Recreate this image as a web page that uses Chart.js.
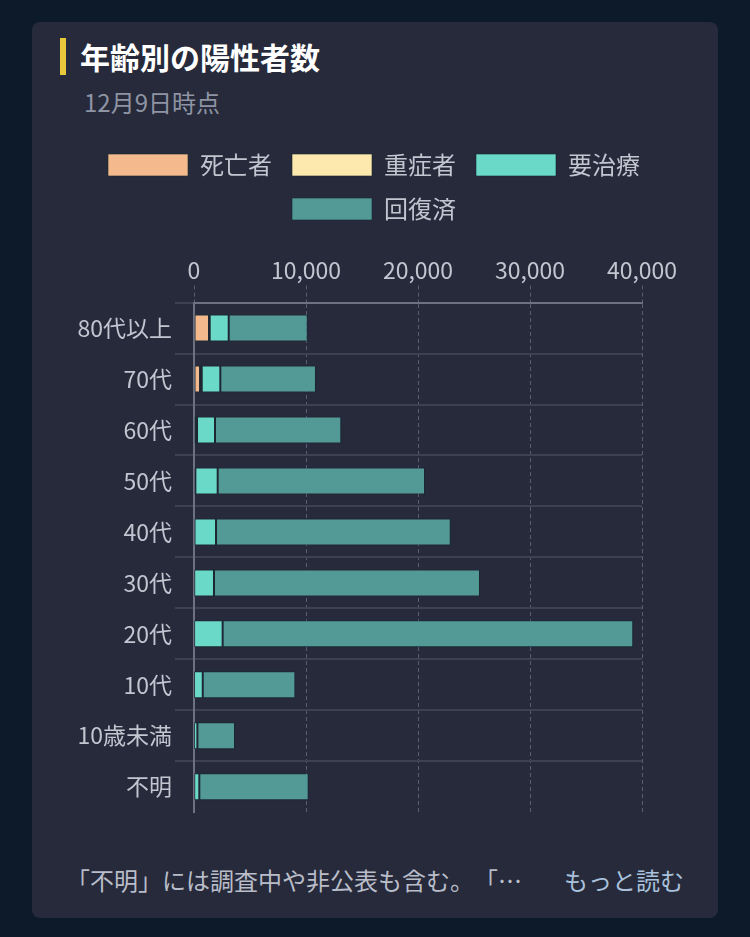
<!DOCTYPE html>
<html lang="ja">
<head>
<meta charset="utf-8">
<script src="https://cdn.jsdelivr.net/npm/chart.js@4/dist/chart.umd.min.js"></script>
<style>
  html, body { margin: 0; padding: 0; }
  body {
    width: 750px; height: 937px; background: #0c1a29; position: relative;
    font-family: "Noto Sans CJK JP", "Noto Sans", sans-serif; overflow: hidden;
  }
  .card {
    position: absolute; left: 32px; top: 22px; width: 686px; height: 896px;
    background: #262a3a; border-radius: 8px; line-height: 1.4;
  }
  .bar { position: absolute; left: 28px; top: 16px; width: 6px; height: 37px; background: #e9c93c; }
  .title { position: absolute; left: 48px; top: 13px; font-size: 30px; font-weight: bold; color: #ffffff; }
  .sub { position: absolute; left: 52px; top: 63px; font-size: 24px; color: #8f94a4; }
  .chart-box { position: absolute; left: 2px; top: 111px; width: 680px; height: 696px; }
  .note {
    position: absolute; left: 34px; top: 841px; font-size: 24px; color: #b9bdc9;
    white-space: nowrap; text-spacing-trim: space-all;
  }
  .more { position: absolute; right: 34px; top: 841px; font-size: 24px; color: #a9c1dc; }
</style>
</head>
<body>
<div class="card">
  <div class="bar"></div>
  <div class="title">年齢別の陽性者数</div>
  <div class="sub">12月9日時点</div>
  <div class="chart-box"><canvas id="grafico-idade"></canvas></div>
  <div class="note">「不明」には調査中や非公表も含む。「…</div>
  <div class="more">もっと読む</div>
</div>
<script>
// 年代
const faixas = ["80代以上", "70代", "60代", "50代", "40代", "30代", "20代", "10代", "10歳未満", "不明"];
// 系列ごとの値（人）
const mortos = [1340, 540, 150, 40, 15, 5, 3, 0, 0, 5];
const graves = [60, 150, 120, 80, 30, 10, 5, 2, 1, 10];
const emTratamento = [1700, 1660, 1605, 1995, 1920, 1770, 2550, 780, 300, 460];
const recuperados = [7050, 8540, 11275, 18510, 20960, 23750, 36660, 8270, 3360, 9765];
// 目盛り
const ticksX = [0, 10000, 20000, 30000, 40000];

const corTexto = "#c3c6d1";
const fonte = "'Noto Sans CJK JP', 'Noto Sans', sans-serif";

function gerarGraficoIdade() {
  const ctx = document.getElementById("grafico-idade").getContext("2d");
  new Chart(ctx, {
    type: "bar",
    data: {
      labels: faixas,
      datasets: [
        { label: "死亡者", data: mortos, backgroundColor: "#f4b98d" },
        { label: "重症者", data: graves, backgroundColor: "#fde9ae" },
        { label: "要治療", data: emTratamento, backgroundColor: "#6bd9c8" },
        { label: "回復済", data: recuperados, backgroundColor: "#539a97" },
      ].map((d) => Object.assign(d, {
        borderColor: "rgba(20, 40, 45, 0.6)",
        borderWidth: 1,
        borderSkipped: false,
        categoryPercentage: 1,
        barPercentage: 0.53,
      })),
    },
    options: {
      indexAxis: "y",
      responsive: true,
      maintainAspectRatio: false,
      animation: false,
      layout: { padding: 0 },
      plugins: {
        legend: {
          position: "top",
          labels: {
            boxWidth: 80,
            boxHeight: 22,
            padding: 20,
            color: corTexto,
            font: { family: fonte, size: 24 },
          },
        },
        tooltip: { enabled: false },
      },
      scales: {
        x: {
          position: "top",
          stacked: true,
          min: 0,
          max: 40000,
          afterBuildTicks: (s) => { s.ticks = ticksX.map((v) => ({ value: v })); },
          afterFit: (s) => { s.height += 23; },
          ticks: { color: corTexto, font: { family: fonte, size: 23 }, padding: 2 },
          grid: { color: "#5a5e70", tickLength: 17, tickBorderDash: [4, 3], tickColor: "#5a5e70" },
          border: { display: true, color: "#6d7182", width: 2, dash: [4, 3] },
        },
        y: {
          stacked: true,
          afterFit: (s) => { s.width = 160; },
          ticks: { color: corTexto, font: { family: fonte, size: 23 }, padding: 3 },
          grid: {
            offset: true,
            tickLength: 19,
            color: (c) => (c.tick === undefined ? "transparent" : "#3d4152"),
            lineWidth: 2,
          },
          border: { display: true, color: "#6d7182", width: 2 },
        },
        // 右側の余白用（表示なし）
        yDireita: {
          type: "category",
          position: "right",
          ticks: { display: false },
          grid: { display: false },
          border: { display: false },
          afterFit: (s) => { s.width = 72; },
        },
      },
    },
  });
}

gerarGraficoIdade();
</script>
</body>
</html>
